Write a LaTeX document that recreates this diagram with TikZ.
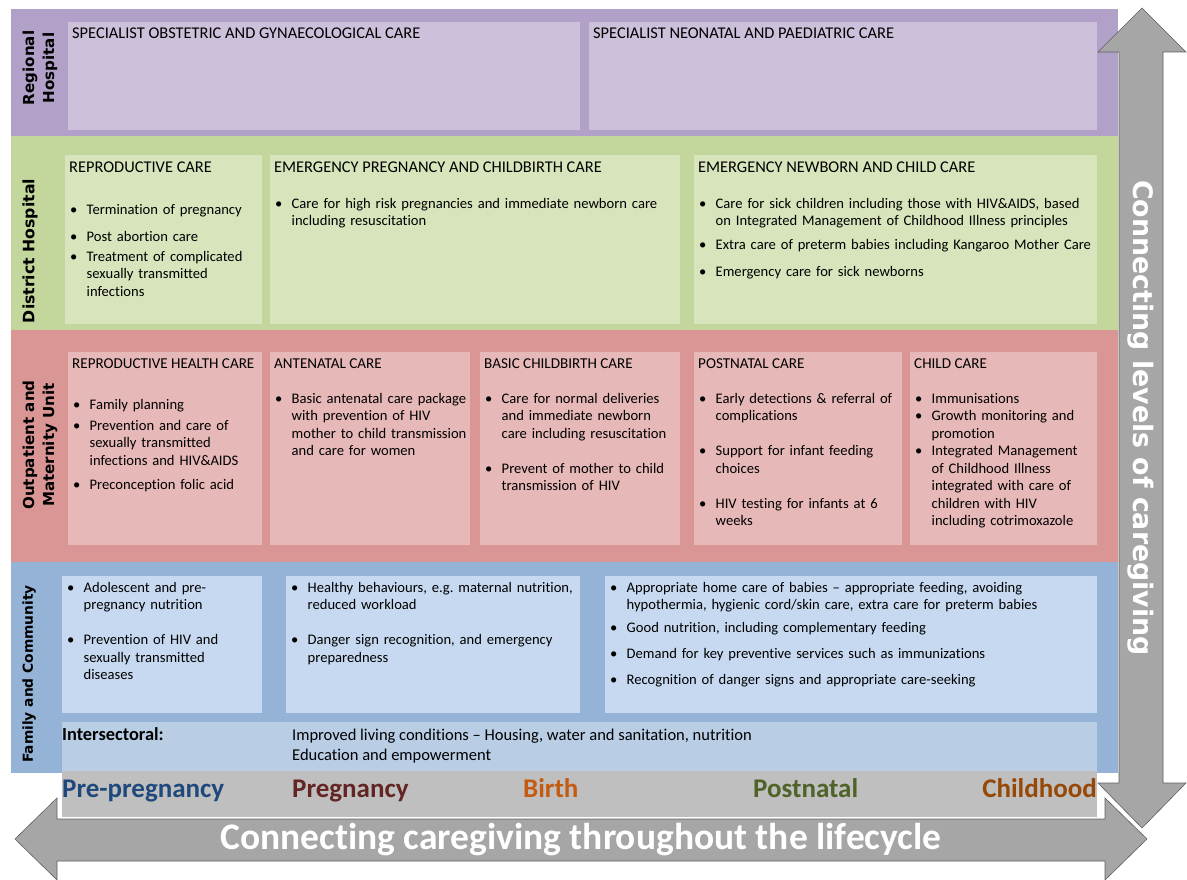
\documentclass[tikz,border=0pt]{standalone}
\usepackage{fontspec}
\setmainfont{Carlito}[Ligatures={TeX,NoCommon}]
\newfontfamily\bandfont{DejaVu Sans}
\definecolor{regband}{RGB}{177,160,199}
\definecolor{regbox}{RGB}{204,192,218}
\definecolor{disband}{RGB}{195,214,155}
\definecolor{disbox}{RGB}{215,228,188}
\definecolor{outband}{RGB}{217,150,148}
\definecolor{outbox}{RGB}{230,184,183}
\definecolor{famband}{RGB}{149,179,215}
\definecolor{fambox}{RGB}{198,217,240}
\definecolor{intbox}{RGB}{185,205,229}
\definecolor{lifeband}{RGB}{191,191,191}
\definecolor{arrowgrey}{RGB}{166,166,166}
\definecolor{arrowline}{RGB}{95,95,95}
\definecolor{lcblue}{RGB}{31,73,125}
\definecolor{lcred}{RGB}{99,37,35}
\definecolor{lcorange}{RGB}{197,90,17}
\definecolor{lcgreen}{RGB}{79,98,40}
\definecolor{lcbrown}{RGB}{151,72,6}
% bullet item with hanging indent, gap between items
\newcommand{\blt}[1]{\hangindent=16.5pt\hangafter=1\noindent\strut\makebox[16.5pt][l]{\textbullet}#1\strut\par}
\newcommand{\gap}[1]{\vspace{#1pt}}

\begin{document}
\begin{tikzpicture}[x=1pt,y=-1pt,
    ttl/.style={anchor=base west,inner sep=0pt,font=\fontsize{#1}{18}\selectfont},
    ttl/.default=16.4,
    itm/.style={anchor=north west,inner sep=0pt,text width=#1,align=left,font=\fontsize{14.6}{17.5}\selectfont},
    bandlbl/.style={rotate=90,inner sep=0pt,align=center,font=\bandfont\bfseries\fontsize{#1}{20}\selectfont},
    life/.style={inner sep=0pt,font=\bfseries\fontsize{27}{30}\selectfont},
    bigarrow/.style={fill=arrowgrey,draw=arrowline,line width=0.6pt,line join=miter}]
  \useasboundingbox (0,0) rectangle (1187,880);
  %\draw[gray!30,step=50] (0,0) grid (1187,880);

  % levels of care
  \fill[regband] (11,9) rectangle (1118,136);
  \fill[regbox] (68,22) rectangle (580,130);
  \fill[regbox] (589,22) rectangle (1097,130);
  \fill[disband] (11,136) rectangle (1118,330);
  \fill[disbox] (65,155) rectangle (262,324);
  \fill[disbox] (270,155) rectangle (680,324);
  \fill[disbox] (694,155) rectangle (1097,324);
  \fill[outband] (11,330) rectangle (1118,562);
  \fill[outbox] (68,352) rectangle (262,545);
  \fill[outbox] (270,352) rectangle (470,545);
  \fill[outbox] (480,352) rectangle (680,545);
  \fill[outbox] (694,352) rectangle (902,545);
  \fill[outbox] (910,352) rectangle (1097,545);
  \fill[famband] (11,562) rectangle (1118,773);
  \fill[fambox] (62,576) rectangle (262,713);
  \fill[fambox] (286,576) rectangle (580,713);
  \fill[fambox] (605,576) rectangle (1097,713);
  \fill[intbox] (62,722) rectangle (1097,771);
  \fill[lifeband] (62,771) rectangle (1097,817);

  % level names
  \node[bandlbl=15.1] (reg) at (40,68) {Regional\\Hospital};
  \node[bandlbl=15.7] (dis) at (30,251) {District Hospital};
  \node[bandlbl=15.1] (out) at (40,445) {Outpatient and\\Maternity Unit};
  \node[bandlbl=13.8] (fam) at (29,674) {Family and Community};

  % regional hospital
  \node[ttl] (reg-obs) at (72,39) {SPECIALIST OBSTETRIC AND GYNAECOLOGICAL CARE};
  \node[ttl] (reg-neo) at (593,39) {SPECIALIST NEONATAL AND PAEDIATRIC CARE};

  % district hospital
  \node[ttl] (dis-rep-t) at (69,172.5) {REPRODUCTIVE CARE};
  \node[itm=192pt] (dis-rep) at (70,202) {\blt{Termination of pregnancy}\gap{9.5}\blt{Post abortion care}\gap{2.5}\blt{Treatment of complicated\newline sexually transmitted\newline infections}};
  \node[ttl] (dis-emp-t) at (274,172.5) {EMERGENCY PREGNANCY AND CHILDBIRTH CARE};
  \node[itm=405pt] (dis-emp) at (275,196) {\blt{Care for high risk pregnancies and immediate newborn care\newline including resuscitation}};
  \node[ttl] (dis-emn-t) at (698,172.5) {EMERGENCY NEWBORN AND CHILD CARE};
  \node[itm=398pt] (dis-emn) at (699,196) {\blt{Care for sick children including those with HIV\&AIDS, based\newline on Integrated Management of Childhood Illness principles}\gap{6.5}\blt{Extra care of preterm babies including Kangaroo Mother Care}\gap{9.5}\blt{Emergency care for sick newborns}};

  % outpatient and maternity unit
  \node[ttl=15.1] (out-rep-t) at (72,368.5) {REPRODUCTIVE HEALTH CARE};
  \node[itm=190pt] (out-rep) at (73,397) {\blt{Family planning}\gap{3.5}\blt{Prevention and care of\newline sexually transmitted\newline infections and HIV\&AIDS}\gap{6.5}\blt{Preconception folic acid}};
  \node[ttl=15.1] (out-ant-t) at (274,368.5) {ANTENATAL CARE};
  \node[itm=196pt] (out-ant) at (275,391) {\blt{Basic antenatal care package\newline with prevention of HIV\newline mother to child transmission\newline and care for women}};
  \node[ttl=15.1] (out-bir-t) at (484,368.5) {BASIC CHILDBIRTH CARE};
  \node[itm=196pt] (out-bir) at (485,391) {\blt{Care for normal deliveries\newline and immediate newborn\newline care including resuscitation}\gap{17.5}\blt{Prevent of mother to child\newline transmission of HIV}};
  \node[ttl=15.1] (out-pos-t) at (698,368.5) {POSTNATAL CARE};
  \node[itm=204pt] (out-pos) at (699,391) {\blt{Early detections \& referral of\newline complications}\gap{17.5}\blt{Support for infant feeding\newline choices}\gap{17.5}\blt{HIV testing for infants at 6\newline weeks}};
  \node[ttl=15.1] (out-chi-t) at (914,368.5) {CHILD CARE};
  \node[itm=183pt] (out-chi) at (915,391) {\blt{Immunisations}\blt{Growth monitoring and\newline promotion}\blt{Integrated Management\newline of Childhood Illness\newline integrated with care of\newline children with HIV\newline including cotrimoxazole}};

  % family and community
  \node[itm=196pt] (fam-pre) at (67,580) {\blt{Adolescent and pre-\newline pregnancy nutrition}\gap{17.5}\blt{Prevention of HIV and\newline sexually transmitted\newline diseases}};
  \node[itm=290pt] (fam-prg) at (291,580) {\blt{Healthy behaviours, e.g.\ maternal nutrition,\newline reduced workload}\gap{17.5}\blt{Danger sign recognition, and emergency\newline preparedness}};
  \node[itm=488pt] (fam-bab) at (610,580) {\blt{Appropriate home care of babies -- appropriate feeding, avoiding\newline hypothermia, hygienic cord/skin care, extra care for preterm babies}\gap{5.5}\blt{Good nutrition, including complementary feeding}\gap{8.5}\blt{Demand for key preventive services such as immunizations}\gap{8.5}\blt{Recognition of danger signs and appropriate care-seeking}};
  \node[anchor=base west,inner sep=0pt,font=\bfseries\fontsize{18.4}{20}\selectfont] (int-lbl) at (62,740) {Intersectoral:};
  \node[anchor=north west,inner sep=0pt,align=left,font=\fontsize{16.5}{20}\selectfont] (int-txt) at (292,728.5) {Improved living conditions -- Housing, water and sanitation, nutrition\\Education and empowerment};

  % stages of the lifecycle
  \node[life,text=lcblue,anchor=base west] (lc-pre) at (62,797) {Pre-pregnancy};
  \node[life,text=lcred,anchor=base west] (lc-prg) at (292,797) {Pregnancy};
  \node[life,text=lcorange,anchor=base west] (lc-bir) at (523,797) {Birth};
  \node[life,text=lcgreen,anchor=base west] (lc-pos) at (753,797) {Postnatal};
  \node[life,text=lcbrown,anchor=base east] (lc-chi) at (1097,797) {Childhood};

  % connecting arrows
  \draw[bigarrow] (15,839) -- (57,798) -- (57,819) -- (1105,819) -- (1105,798) -- (1147,839)
    -- (1105,880) -- (1105,861) -- (57,861) -- (57,880) -- cycle;
  \node[font=\bfseries\fontsize{37.5}{40}\selectfont,text=white] (lifecycle) at (581,840) {Connecting caregiving throughout the lifecycle};
  \draw[bigarrow] (1142,8) -- (1186,52) -- (1163,52) -- (1163,783) -- (1186,783) -- (1142,828)
    -- (1098,783) -- (1119,783) -- (1119,52) -- (1098,52) -- cycle;
  \node[rotate=-90,font=\bandfont\bfseries\fontsize{26.8}{30}\selectfont,text=white] (levels) at (1141,418) {Connecting levels of caregiving};
\end{tikzpicture}
\end{document}
